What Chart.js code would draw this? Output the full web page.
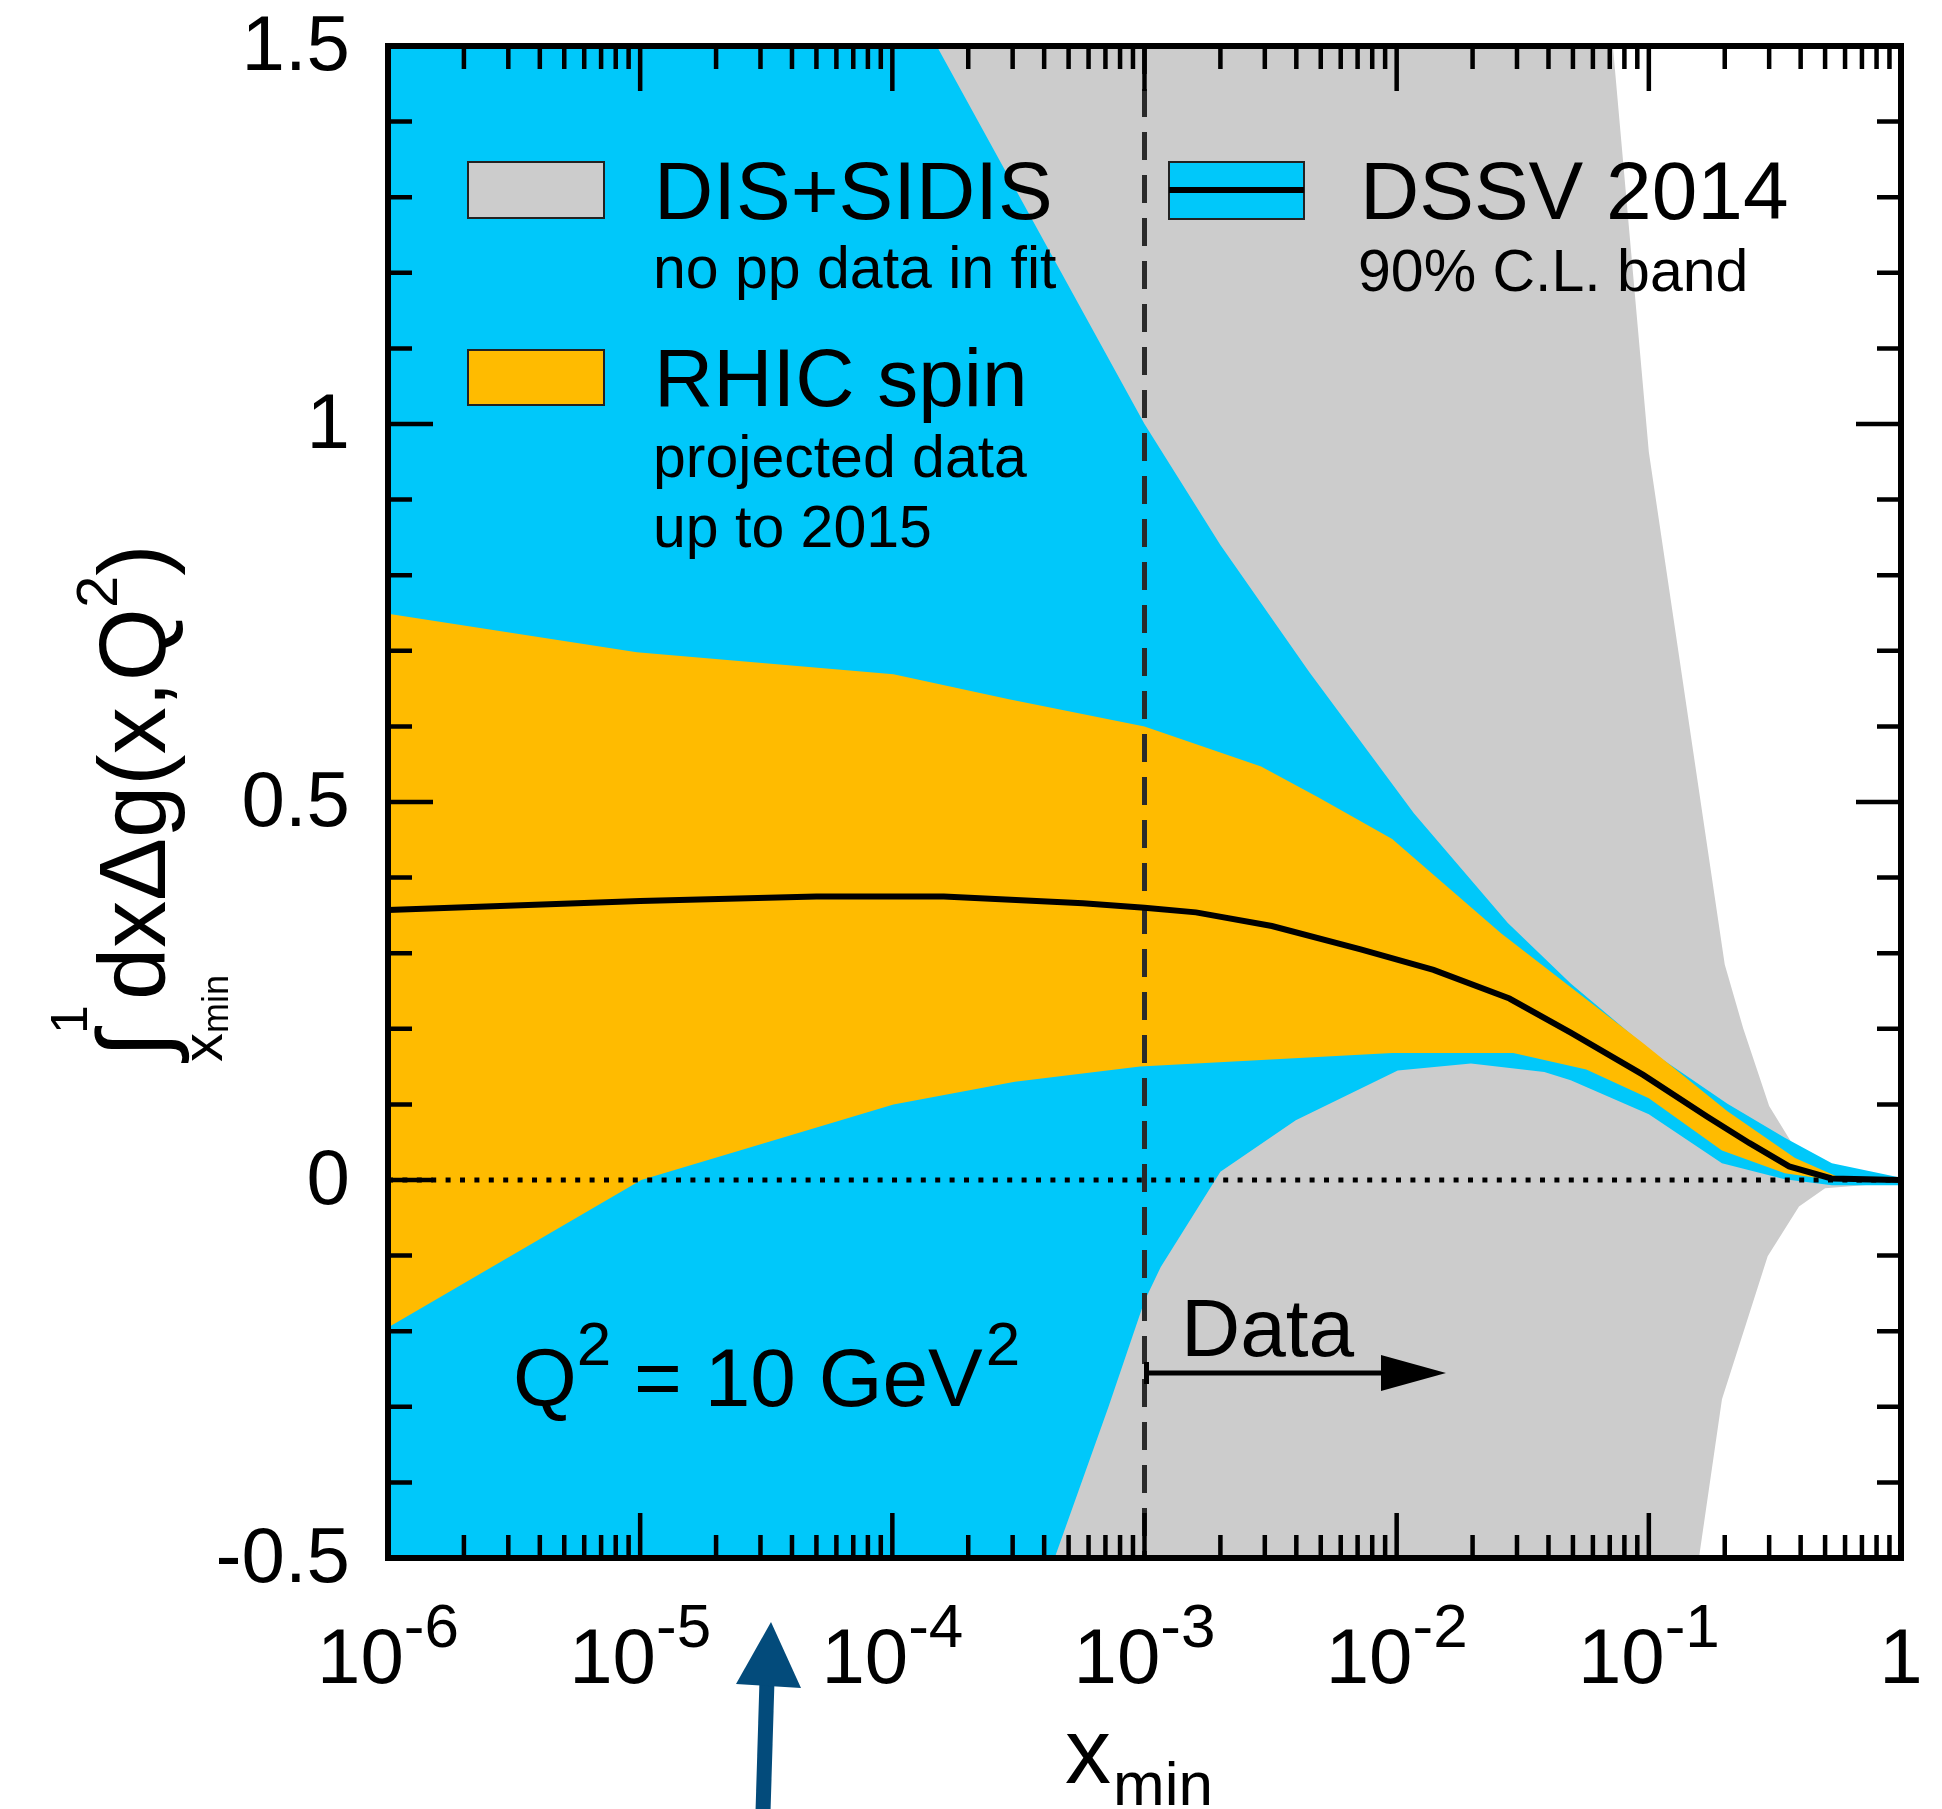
<!DOCTYPE html>
<html>
<head>
<meta charset="utf-8">
<script src="https://cdn.jsdelivr.net/npm/chart.js@4.4.1/dist/chart.umd.min.js"></script>
<style>
  html, body { margin: 0; padding: 0; background: #fff; }
  #wrap { width: 1942px; height: 1809px; }
</style>
</head>
<body>
<div id="wrap"><canvas id="myChart" width="1942" height="1809"></canvas></div>
<script>
// values, [x, y]
const dssvCentral = [[1e-6,0.357],[1e-5,0.369],[5e-5,0.375],[1.6e-4,0.375],[5.7e-4,0.366],[1e-3,0.36],
  [1.6e-3,0.354],[3.2e-3,0.336],[7.2e-3,0.305],[1.4e-2,0.278],[2.8e-2,0.24],[4.9e-2,0.195],
  [9.5e-2,0.139],[0.17,0.084],[0.25,0.049],[0.36,0.018],[0.53,0.002],[1,0]];

const dssvUpper = [[1e-6,1.5],[1.5e-4,1.5],[1e-3,1.0],[2e-3,0.84],[4.5e-3,0.672],[1.17e-2,0.485],
  [2.76e-2,0.34],[4.9e-2,0.26],[0.105,0.167],[0.205,0.101],[0.346,0.056],[0.532,0.022],[1,0.003]];
const dssvLower = [[1e-6,-0.5],[4.4e-4,-0.5],[7.2e-4,-0.3],[1e-3,-0.16],[1.16e-3,-0.115],[2e-3,0.011],
  [3.98e-3,0.079],[1.01e-2,0.145],[1.97e-2,0.154],[3.85e-2,0.143],[4.9e-2,0.132],[0.1,0.087],
  [0.195,0.022],[0.346,0.001],[0.532,-0.007],[1,-0.007]];

const rhicUpper = [[1e-6,0.749],[9.7e-6,0.698],[1.01e-4,0.669],[2.9e-4,0.636],[1e-3,0.6],[2.9e-3,0.547],
  [4.9e-3,0.506],[9.6e-3,0.451],[2.6e-2,0.326],[9.5e-2,0.181],[0.205,0.091],[0.38,0.029],[0.59,0.001],[1,0]];
const rhicLower = [[1e-6,-0.195],[1.01e-5,0],[1.01e-4,0.1],[3.06e-4,0.13],[9.6e-4,0.15],[9.6e-3,0.168],
  [2.9e-2,0.168],[5.65e-2,0.146],[0.1,0.108],[0.195,0.039],[0.346,0.009],[0.53,0],[1,0]];

const disUpper = [[1e-6,1.5],[7.2e-2,1.5],[0.1,0.963],[0.2,0.285],[0.237,0.2],[0.3,0.098],[0.38,0.042],[0.5,0.01],[1,0.002]];
const disLower = [[1e-6,-0.5],[0.158,-0.5],[0.195,-0.29],[0.296,-0.101],[0.394,-0.035],[0.5,-0.011],[1,-0.003]];

const dataLimit = 1e-3;   // vertical dashed line
const xTickValues = [1e-6, 1e-5, 1e-4, 1e-3, 1e-2, 1e-1, 1];
const xTickBase = ['10','10','10','10','10','10','1'];
const xTickExp = ['-6','-5','-4','-3','-2','-1',''];

const BLUE = '#00c8fa', ORANGE = '#ffbb00', GREY = '#cccccc';
const FONT = '"Liberation Sans", Arial, Helvetica, sans-serif';
const font = s => s + 'px ' + FONT;
const pts = arr => arr.map(p => ({x: p[0], y: p[1]}));

function band(points, color, order, fill) {
  return { data: pts(points), borderWidth: 0, borderColor: 'transparent', backgroundColor: color,
           fill: fill ? '+1' : false, order: order, pointRadius: 0 };
}

const datasets = [
  { data: pts(dssvCentral), borderColor: '#000', borderWidth: 6, fill: false, order: 0, pointRadius: 0 },
  { data: [{x: dataLimit, y: 1.5}, {x: dataLimit, y: -0.5}], borderColor: '#2a2a2a', borderWidth: 5,
    borderDash: [28, 15], fill: false, order: 1, pointRadius: 0 },
  { data: [{x: 1e-6, y: 0}, {x: 1, y: 0}], borderColor: '#000', borderWidth: 5,
    borderDash: [5, 9.4], fill: false, order: 2, pointRadius: 0 },
  band(rhicUpper, ORANGE, 3, true),
  band(rhicLower, ORANGE, 3, false),
  band(dssvUpper, BLUE, 4, true),
  band(dssvLower, BLUE, 4, false),
  band(disUpper, GREY, 5, true),
  band(disLower, GREY, 5, false)
];

const decorations = {
  id: 'decorations',
  afterDatasetsDraw(chart) {
    const ctx = chart.ctx;
    const {left, right, top, bottom} = chart.chartArea;
    const xs = chart.scales.x, ys = chart.scales.y;
    ctx.save();
    // ticks, pointing inwards on all four sides
    ctx.strokeStyle = '#000';
    ctx.lineWidth = 4.5;
    ctx.beginPath();
    for (let e = -6; e < 0; e++) {
      for (let m = 1; m < 10; m++) {
        const px = xs.getPixelForValue(m * Math.pow(10, e));
        const len = m === 1 ? 45 : 23;
        ctx.moveTo(px, bottom); ctx.lineTo(px, bottom - len);
        ctx.moveTo(px, top); ctx.lineTo(px, top + len);
      }
    }
    for (let i = -5; i <= 15; i++) {
      const py = ys.getPixelForValue(i / 10);
      const len = i % 5 === 0 ? 45 : 24;
      ctx.moveTo(left, py); ctx.lineTo(left + len, py);
      ctx.moveTo(right, py); ctx.lineTo(right - len, py);
    }
    ctx.stroke();
    ctx.lineWidth = 6;
    ctx.strokeRect(left, top, right - left, bottom - top);

    ctx.fillStyle = '#000';

    // y tick labels from the scale's own ticks
    ctx.font = font(78);
    ctx.textAlign = 'right';
    ctx.textBaseline = 'middle';
    ys.ticks.forEach(t => {
      ctx.fillText(String(t.value), left - 38, ys.getPixelForValue(t.value) + 2);
    });

    ctx.textBaseline = 'alphabetic';
    ctx.textAlign = 'left';

    // x tick labels 10^n
    xTickValues.forEach((v, i) => {
      const px = xs.getPixelForValue(v);
      ctx.font = font(78);
      const w1 = ctx.measureText(xTickBase[i]).width;
      ctx.font = font(62);
      const w2 = xTickExp[i] ? ctx.measureText(xTickExp[i]).width : 0;
      const x0 = px - (w1 + w2) / 2;
      ctx.font = font(78);
      ctx.fillText(xTickBase[i], x0, 1683);
      if (xTickExp[i]) { ctx.font = font(62); ctx.fillText(xTickExp[i], x0 + w1, 1647); }
    });

    // x axis title
    ctx.font = font(92);
    ctx.fillText('x', 1065, 1783);
    ctx.font = font(62);
    ctx.fillText('min', 1065 + 48, 1805);

    // y axis title (rotated)
    ctx.save();
    ctx.rotate(-Math.PI / 2);
    ctx.font = font(100);
    ctx.fillText('\u222B', -1058, 168);
    ctx.font = font(52);
    ctx.fillText('1', -1034, 87);
    ctx.font = font(58);
    ctx.fillText('x', -1062, 222);
    let u = -1062 + ctx.measureText('x').width;
    ctx.font = font(36);
    ctx.fillText('min', u, 228);
    ctx.font = font(94);
    const body = 'dx\u0394g(x,Q';
    ctx.fillText(body, -1000, 165);
    u = -1000 + ctx.measureText(body).width;
    ctx.font = font(58);
    ctx.fillText('2', u, 117);
    u += ctx.measureText('2').width;
    ctx.font = font(94);
    ctx.fillText(')', u, 165);
    ctx.restore();

    // legend
    ctx.lineWidth = 2;
    ctx.strokeStyle = '#222';
    ctx.fillStyle = GREY;
    ctx.fillRect(468, 162, 136, 56); ctx.strokeRect(468, 162, 136, 56);
    ctx.fillStyle = ORANGE;
    ctx.fillRect(468, 350, 136, 55); ctx.strokeRect(468, 350, 136, 55);
    ctx.fillStyle = BLUE;
    ctx.fillRect(1169, 162, 135, 57); ctx.strokeRect(1169, 162, 135, 57);
    ctx.fillStyle = '#000';
    ctx.fillRect(1169, 187, 135, 6);

    ctx.font = font(82);
    ctx.fillText('DIS+SIDIS', 654, 219);
    ctx.fillText('RHIC spin', 654, 406);
    ctx.fillText('DSSV 2014', 1360, 219);
    ctx.font = font(59);
    ctx.fillText('no pp data in fit', 653, 288);
    ctx.fillText('projected data', 653, 477);
    ctx.fillText('up to 2015', 653, 547);
    ctx.fillText('90% C.L. band', 1358, 291);

    // Q^2 = 10 GeV^2
    let x = 513;
    ctx.font = font(82);
    ctx.fillText('Q', x, 1406);
    x += ctx.measureText('Q').width;
    ctx.font = font(62);
    ctx.fillText('2', x, 1365);
    x += ctx.measureText('2').width;
    ctx.font = font(82);
    ctx.fillText(' = 10 GeV', x, 1406);
    x += ctx.measureText(' = 10 GeV').width;
    ctx.font = font(62);
    ctx.fillText('2', x + 3, 1365);

    // "Data" with arrow
    ctx.font = font(82);
    ctx.fillText('Data', 1181, 1356);
    const ax = xs.getPixelForValue(dataLimit);
    ctx.lineWidth = 5;
    ctx.strokeStyle = '#000';
    ctx.beginPath();
    ctx.moveTo(ax + 2, 1373); ctx.lineTo(1390, 1373);
    ctx.moveTo(ax + 2, 1362); ctx.lineTo(ax + 2, 1384);
    ctx.stroke();
    ctx.beginPath();
    ctx.moveTo(1381, 1355); ctx.lineTo(1446, 1373); ctx.lineTo(1381, 1391); ctx.closePath();
    ctx.fill();

    // blue marker arrow under the axis
    ctx.fillStyle = '#034b7b';
    ctx.strokeStyle = '#034b7b';
    ctx.lineWidth = 15;
    ctx.beginPath();
    ctx.moveTo(767, 1680); ctx.lineTo(763, 1812);
    ctx.stroke();
    ctx.beginPath();
    ctx.moveTo(771, 1622); ctx.lineTo(801, 1688); ctx.lineTo(736, 1684); ctx.closePath();
    ctx.fill();

    ctx.restore();
  }
};

const ctx = document.getElementById('myChart').getContext('2d');
new Chart(ctx, {
  type: 'line',
  data: { datasets: datasets },
  options: {
    responsive: false,
    animation: false,
    events: [],
    layout: { padding: { left: 0, right: 41, top: 46, bottom: 0 } },
    plugins: { legend: { display: false }, tooltip: { enabled: false } },
    elements: { line: { tension: 0 }, point: { radius: 0 } },
    scales: {
      x: {
        type: 'logarithmic', min: 1e-6, max: 1,
        grid: { display: false, drawTicks: false },
        border: { display: false },
        ticks: { display: false },
        afterFit: s => { s.height = 251; }
      },
      y: {
        min: -0.5, max: 1.5,
        grid: { display: false, drawTicks: false },
        border: { display: false },
        ticks: { display: false, stepSize: 0.5 },
        afterFit: s => { s.width = 388; }
      }
    }
  },
  plugins: [decorations]
});
</script>
</body>
</html>
